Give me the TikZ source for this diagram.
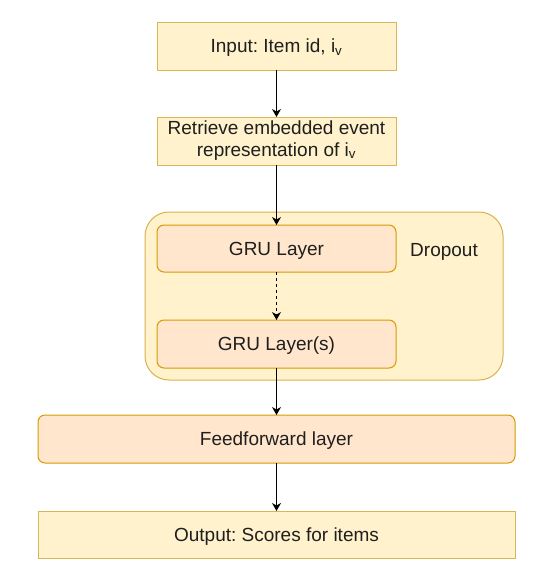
\documentclass[tikz,border=0pt]{standalone}
\usepackage{fontspec}
\setmainfont{Liberation Sans}
\usetikzlibrary{arrows.meta}
\definecolor{yfill}{HTML}{FFF2CC}
\definecolor{ystroke}{HTML}{D6B656}
\definecolor{ofill}{HTML}{FFE6CC}
\definecolor{ostroke}{HTML}{D79B00}
\definecolor{txt}{HTML}{1F1F1F}
\tikzset{
  base/.style={rectangle, outer sep=0pt, inner sep=2pt, line width=1pt, text=txt,
    font=\fontsize{19}{22}\selectfont\frenchspacing, text height=17.2pt, text depth=4pt},
  ybox/.style={base, fill=yfill, draw=ystroke},
  obox/.style={base, fill=ofill, draw=ostroke, rounded corners=7pt},
  conn/.style={line width=1pt, draw=black, -{Stealth[length=8pt,width=9pt,inset=2.5pt]}},
}
\begin{document}
\begin{tikzpicture}[x=1pt,y=-1pt]
\useasboundingbox (0,0) rectangle (539,568);
\node[base, fill=yfill, draw=ystroke!90!orange, rounded corners=24pt, minimum width=358pt, minimum height=168pt] (cont) at (324,296) {};
\node[ybox, minimum width=239pt, minimum height=48pt] (inp) at (276.5,46) {Input: Item id, i\textsubscript{v}};
\node[ybox, minimum width=239pt, minimum height=48pt, text height=, text depth=] (ret) at (276.5,141)
  {\raisebox{-2pt}{\begin{tabular}{@{}c@{}}Retrieve embedded event\\representation of i\textsubscript{v}\end{tabular}}};
\node[obox, minimum width=239pt, minimum height=47pt] (gru1) at (276.5,248.5) {GRU Layer};
\node[obox, minimum width=239pt, minimum height=48pt] (gru2) at (276.5,344) {GRU Layer(s)};
\node[base, inner sep=0pt] (drop) at (444,250) {Dropout};
\node[obox, minimum width=477pt, minimum height=48pt] (ff) at (276.5,439) {Feedforward layer};
\node[ybox, minimum width=477pt, minimum height=47pt] (out) at (276.5,534.5) {Output: Scores for items};
\draw[conn] (inp.south) -- (ret.north);
\draw[conn] (ret.south) -- (gru1.north);
\draw[conn, dash pattern=on 3pt off 3pt] (gru1.south) -- (gru2.north);
\draw[conn] (gru2.south) -- (ff.north);
\draw[conn] (ff.south) -- (out.north);
\end{tikzpicture}
\end{document}
